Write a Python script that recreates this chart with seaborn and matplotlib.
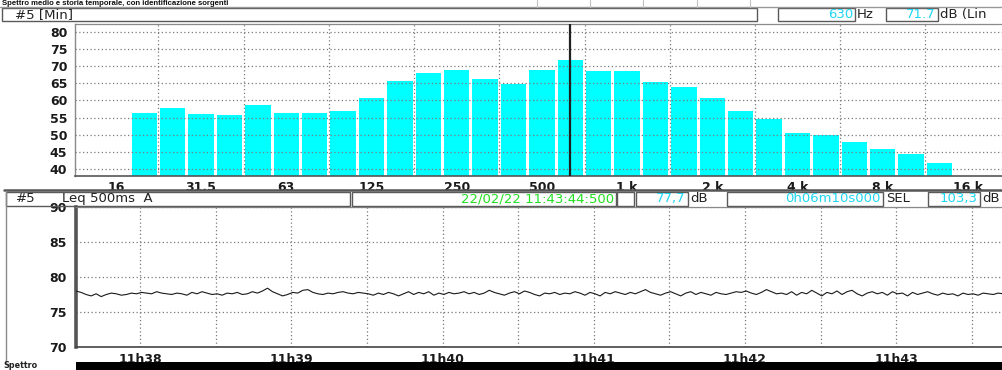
import numpy as np
import pandas as pd
import matplotlib
matplotlib.use("Agg")
import matplotlib.pyplot as plt
import seaborn as sns
from matplotlib.patches import Rectangle
from matplotlib.ticker import FixedLocator, NullFormatter

# ---------------- data ----------------
bands = ["16", "20", "25", "31.5", "40", "50", "63", "80", "100", "125", "160",
         "200", "250", "315", "400", "500", "630", "800", "1k", "1.25k", "1.6k",
         "2k", "2.5k", "3.15k", "4k", "5k", "6.3k", "8k", "10k", "12.5k", "16k"]
spec_bands = bands[1:30]
spec_db = [56.3, 57.9, 56.1, 55.7, 58.6, 56.4, 56.4, 57.0,
           60.8, 65.5, 68.0, 68.7, 66.2, 64.8, 68.7, 71.7,
           68.6, 68.6, 65.3, 63.8, 60.8, 57.0, 54.6, 50.6,
           49.9, 47.8, 45.8, 44.5, 41.8]
tick_bands = ["16", "31.5", "63", "125", "250", "500", "1k", "2k", "4k", "8k", "16k"]
tick_band_labels = ["16", "31.5", "63", "125", "250", "500", "1 k", "2 k", "4 k", "8 k", "16 k"]
cursor_band = "630"

leq_start_s = 11 * 3600 + 37 * 60 + 34.5   # 11:37:34.500
leq_step_s = 2.0
leq_values = [
    78.0, 77.8, 77.5, 77.3, 77.6, 77.2, 77.5, 77.7, 77.6, 77.4, 77.5, 77.7, 77.6, 77.8, 77.7, 77.6, 77.9, 77.7, 77.6, 77.5,
    77.7, 77.6, 77.4, 77.8, 77.6, 77.9, 77.7, 77.5, 77.6, 77.4, 77.7, 77.6, 77.8, 77.5, 77.6, 77.9, 77.7, 78.0, 78.4, 77.9,
    77.6, 77.3, 77.5, 77.8, 77.7, 78.1, 78.2, 77.8, 77.6, 77.5, 77.7, 77.6, 77.8, 77.9, 77.7, 77.6, 77.8, 77.7, 77.6, 77.4,
    77.7, 77.5, 77.8, 77.6, 77.3, 77.6, 77.9, 77.5, 77.8, 77.6, 77.9, 77.4, 77.7, 77.5, 77.8, 77.6, 77.7, 77.9, 77.6, 77.8,
    77.5, 77.7, 78.1, 77.8, 77.6, 77.4, 77.7, 77.9, 77.6, 78.0, 77.8, 77.5, 77.3, 77.7, 77.6, 77.8, 77.5, 77.7, 77.6, 77.9,
    77.7, 77.4, 77.8, 77.6, 77.3, 77.8, 77.6, 77.9, 77.7, 77.5, 77.8, 77.6, 77.9, 78.2, 77.8, 77.6, 77.4, 77.7, 77.9, 77.6,
    77.3, 77.7, 77.9, 77.5, 77.8, 77.6, 77.4, 77.8, 77.6, 77.5, 77.7, 77.9, 77.8, 78.0, 77.7, 77.5, 77.8, 78.2, 77.9, 77.6,
    77.7, 77.5, 77.9, 77.4, 77.8, 77.6, 78.1, 77.7, 77.3, 77.8, 77.6, 78.0, 77.5, 77.9, 78.1, 77.6, 77.3, 77.7, 77.9, 77.6,
    77.8, 77.4, 77.9, 77.6, 77.7, 77.3, 77.8, 77.5, 77.7, 77.9, 77.6, 77.4, 77.7, 77.5, 77.6, 77.3, 77.7, 77.5, 77.6, 77.4,
    77.7, 77.6, 77.5, 77.7, 77.6, 77.5]
time_tick_s = [11 * 3600 + m * 60 for m in range(38, 44)]
time_tick_labels = ["11h38", "11h39", "11h40", "11h41", "11h42", "11h43"]

title = "Spettro medio e storia temporale, con identificazione sorgenti"

# ---------------- style ----------------
sns.set_style("white")
plt.rcParams["font.family"] = ["DejaVu Sans"]

W, H = 1002, 370
fig = plt.figure(figsize=(W / 100, H / 100), dpi=100)
fig.patch.set_facecolor("white")


def rect(x0, y0, x1, y1):
    return [x0 / W, 1 - y1 / H, (x1 - x0) / W, (y1 - y0) / H]


GRID = dict(color="#7a7a7a", linestyle=(0, (1, 2)), linewidth=0.9)
TICKFONT = dict(fontsize=9, fontweight="bold", color="#1a1a1a")

# ---------------- top: spectrum ----------------
ax1 = fig.add_axes(rect(75, 24, 1002, 176))
df = pd.DataFrame({"band": spec_bands, "dB": spec_db})
sns.barplot(data=df, x="band", y="dB", order=bands, color="#00FFFF",
            saturation=1, width=0.9, ax=ax1, zorder=2, linewidth=0)
ax1.set_xlim(-1.44, 31.2)
ax1.set_ylim(38.0, 82.2)
ax1.set_xlabel("")
ax1.set_ylabel("")
tick_pos = [bands.index(b) for b in tick_bands]
ax1.xaxis.set_major_locator(FixedLocator(tick_pos))
ax1.set_xticklabels(tick_band_labels, **TICKFONT)
ax1.xaxis.set_minor_locator(FixedLocator([p + 1.5 for p in tick_pos]))
ax1.set_yticks(range(40, 81, 5))
ax1.set_yticklabels([str(v) for v in range(40, 81, 5)], **TICKFONT)
ax1.tick_params(axis="x", which="major", length=2.5, width=0.8, pad=1, color="#444")
ax1.tick_params(axis="x", which="minor", length=0)
ax1.tick_params(axis="y", length=2.5, width=0.8, pad=3, color="#444")
ax1.grid(False)
ax1.grid(True, which="minor", axis="x", zorder=3, **GRID)
ax1.grid(True, which="major", axis="y", zorder=3, **GRID)
ax1.set_axisbelow(False)
ax1.axvline(bands.index(cursor_band), color="#202020", lw=1.6, zorder=4)
ax1.spines["right"].set_visible(False)
ax1.spines["top"].set_color("#8a8a8a")
ax1.spines["top"].set_linewidth(0.9)
ax1.spines["left"].set_color("#8a8a8a")
ax1.spines["left"].set_linewidth(1.0)
ax1.spines["bottom"].set_color("#555555")
ax1.spines["bottom"].set_linewidth(1.2)

# ---------------- bottom: time history ----------------
ax2 = fig.add_axes(rect(76, 207, 1002, 347))
t = leq_start_s + leq_step_s * np.arange(len(leq_values))
df2 = pd.DataFrame({"t": t, "Leq": leq_values})
sns.lineplot(data=df2, x="t", y="Leq", color="#1a1a1a", lw=0.8, ax=ax2, zorder=3)
ax2.set_xlim(leq_start_s, leq_start_s + 367.5)
ax2.set_ylim(70, 90)
ax2.set_xlabel("")
ax2.set_ylabel("")
ax2.xaxis.set_major_locator(FixedLocator(time_tick_s))
ax2.set_xticklabels(time_tick_labels, **TICKFONT)
ax2.xaxis.set_minor_locator(FixedLocator([s + 30 for s in [time_tick_s[0] - 60] + time_tick_s]))
ax2.xaxis.set_minor_formatter(NullFormatter())
ax2.set_yticks(range(70, 91, 5))
ax2.set_yticklabels([str(v) for v in range(70, 91, 5)], **TICKFONT)
ax2.tick_params(axis="x", which="both", length=3, width=0.8, pad=1, color="#444")
ax2.tick_params(axis="y", length=2.5, width=0.8, pad=4, color="#444")
ax2.grid(False)
ax2.grid(True, which="both", axis="x", zorder=1, **GRID)
ax2.grid(True, which="major", axis="y", zorder=1, **GRID)
ax2.spines["right"].set_visible(False)
ax2.spines["top"].set_color("#8a8a8a")
ax2.spines["top"].set_linewidth(0.9)
ax2.spines["left"].set_color("#555555")
ax2.spines["left"].set_linewidth(2.6)
ax2.spines["bottom"].set_color("#444444")
ax2.spines["bottom"].set_linewidth(1.2)

# ---------------- overlay: header boxes and texts ----------------
ov = fig.add_axes([0, 0, 1, 1])
ov.set_xlim(0, W)
ov.set_ylim(H, 0)
ov.axis("off")
ov.set_zorder(10)
ov.patch.set_alpha(0)

CYAN = "#1fd6f2"
GREEN = "#22e022"
BOX = dict(fill=False, edgecolor="#5a5a5a", linewidth=1.0)
HFONT = dict(fontsize=9.5, va="center")


def box(x0, y0, x1, y1, **kw):
    style = dict(BOX)
    style.update(kw)
    ov.add_patch(Rectangle((x0, y0), x1 - x0, y1 - y0, **style))


ov.plot([0, W], [7.0, 7.0], color="#9a9a9a", lw=1.0)
for xv in [537, 590, 643, 697, 750]:
    ov.plot([xv, xv], [0, 7.0], color="#c0c0c0", lw=0.8)
ov.text(2, 0.3, title, fontsize=5.6, fontweight="bold", va="top", ha="left",
        family=["Liberation Sans", "DejaVu Sans"], color="#111")

# top header row
box(2, 8, 757, 21)
ov.text(15, 14.5, "#5 [Min]", color="#222", **HFONT)
box(778, 8, 855, 21)
ov.text(853, 14.5, "630", color=CYAN, ha="right", **HFONT)
ov.text(857, 14.5, "Hz", color="#222", ha="left", **HFONT)
box(886, 8, 938, 21)
ov.text(936, 14.5, "71.7", color=CYAN, ha="right", **HFONT)
ov.text(940, 14.5, "dB (Lin", color="#222", ha="left", **HFONT)

# separator
ov.plot([4, W], [189.5, 189.5], color="#555", lw=1.8)
ov.plot([6, 6], [191, 362], color="#8a8a8a", lw=1.0)

# bottom header row
box(6, 192, 350, 205.5)
ov.text(16, 198.8, "#5", color="#222", **HFONT)
ov.text(62, 198.8, "Leq 500ms  A", color="#222", **HFONT)
box(352, 192, 616, 205.5)
ov.text(614, 198.8, "22/02/22 11:43:44:500", color=GREEN, ha="right", **HFONT)
box(617, 192, 634, 205.5)
box(636, 192, 688, 205.5)
ov.text(686, 198.8, "77,7", color=CYAN, ha="right", **HFONT)
ov.text(690, 198.8, "dB", color="#222", ha="left", **HFONT)
box(727, 192, 883, 205.5)
ov.text(881, 198.8, "0h06m10s000", color=CYAN, ha="right", **HFONT)
ov.text(886, 198.8, "SEL", color="#222", ha="left", **HFONT)
box(928, 192, 980, 205.5)
ov.text(978, 198.8, "103,3", color=CYAN, ha="right", **HFONT)
ov.text(982, 198.8, "dB", color="#222", ha="left", **HFONT)

# bottom strip
ov.add_patch(Rectangle((76, 362), W - 76, 10, facecolor="black", edgecolor="none"))
ov.text(3, 369.5, "Spettro", fontsize=5.8, fontweight="bold", va="bottom", ha="left", color="#222")

fig.savefig("out.png", dpi=100, facecolor="white")
